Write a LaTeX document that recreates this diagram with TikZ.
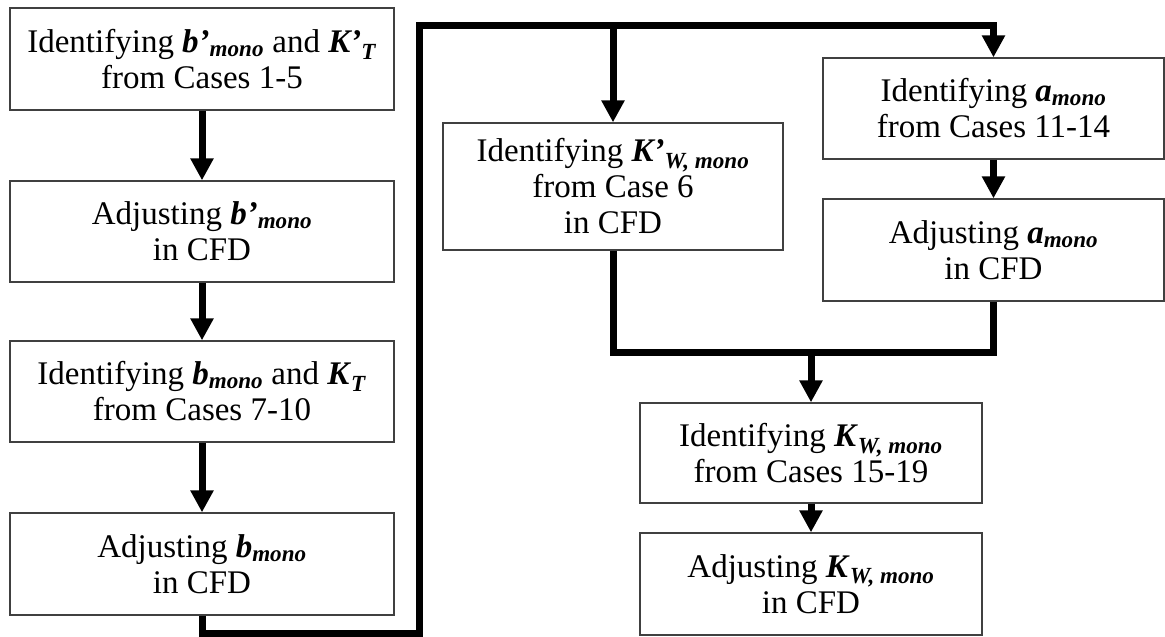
\documentclass[tikz,border=0pt]{standalone}
\usepackage{fontspec}
\setmainfont{Liberation Serif}
\usepackage{tikz}
\usetikzlibrary{arrows.meta, calc}

\newcommand{\bvar}[1]{\textbf{\textit{#1}}}
\newcommand{\bsub}[1]{\textsubscript{\textbf{\textit{#1}}}}

\begin{document}
\begin{tikzpicture}
      [
        x=1pt, y=-1pt,
        box/.style={draw=black!75, line width=1.3pt, rectangle, align=center,
          inner sep=2pt, font=\fontsize{33}{36}\selectfont},
        flow/.style={line width=7pt, line join=miter},
        flowarrow/.style={flow, -{Triangle[length=22pt, width=22pt]}}
      ]
      \path[use as bounding box] (0,0) rectangle (1165,637);
      % left column
      \node [box, minimum width=384, minimum height=102] (idbp) at (202,59)
        {Identifying \bvar{b’}\bsub{mono} and \bvar{K’}\bsub{T}\\from Cases 1-5};
      \node [box, minimum width=384, minimum height=101] (adbp) at (202,231.5)
        {Adjusting \bvar{b’}\bsub{mono}\\in CFD};
      \node [box, minimum width=384, minimum height=101] (idb) at (202,391.5)
        {Identifying \bvar{b}\bsub{mono} and \bvar{K}\bsub{T}\\from Cases 7-10};
      \node [box, minimum width=384, minimum height=102] (adb) at (202,564)
        {Adjusting \bvar{b}\bsub{mono}\\in CFD};
      % middle column
      \node [box, minimum width=340, minimum height=127] (idkwp) at (613,186.5)
        {Identifying \bvar{K’}\bsub{W, mono}\\from Case 6\\in CFD};
      % right column
      \node [box, minimum width=341, minimum height=101] (ida) at (993.5,108.5)
        {Identifying \bvar{a}\bsub{mono}\\from Cases 11-14};
      \node [box, minimum width=341, minimum height=102] (ada) at (993.5,250)
        {Adjusting \bvar{a}\bsub{mono}\\in CFD};
      % bottom
      \node [box, minimum width=342, minimum height=100] (idkw) at (811,453)
        {Identifying \bvar{K}\bsub{W, mono}\\from Cases 15-19};
      \node [box, minimum width=342, minimum height=102] (adkw) at (811,584)
        {Adjusting \bvar{K}\bsub{W, mono}\\in CFD};
      % corners
      \coordinate (bl) at (419,633);
      \coordinate (tl) at (419,25.5);
      \coordinate (br) at (idkwp.north |- tl);
      \coordinate (jn) at (idkw.north |- 0,352);
      % edges
      \draw [flowarrow] (idbp) -- (adbp);
      \draw [flowarrow] (adbp) -- (idb);
      \draw [flowarrow] (idb) -- (adb);
      \draw [flowarrow] (adb.south) |- (bl) -- (tl) -| (ida.north);
      \draw [flowarrow] (br) -- (idkwp.north);
      \draw [flowarrow] (ida) -- (ada);
      \draw [flow] (idkwp.south) |- (jn) -| (ada.south);
      \draw [flowarrow] (jn) -- (idkw.north);
      \draw [flowarrow] (idkw) -- (adkw);
    \end{tikzpicture}
\end{document}
